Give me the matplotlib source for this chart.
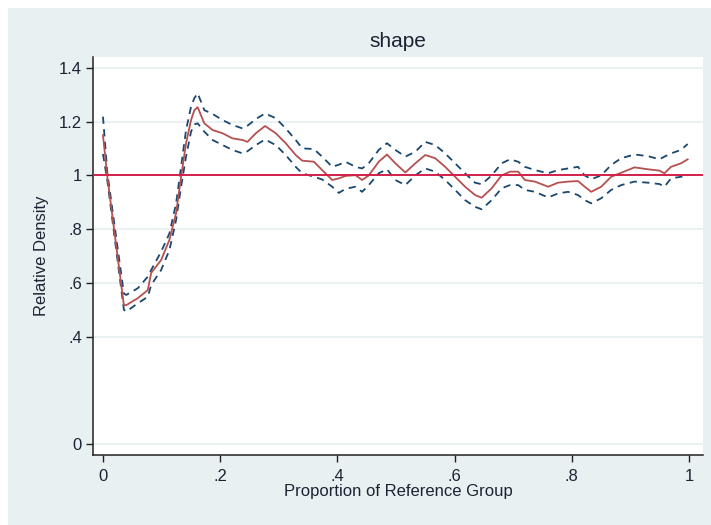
import matplotlib
matplotlib.use("Agg")
import matplotlib.pyplot as plt
from matplotlib.patches import Rectangle

x = [0.000, 0.0075, 0.0357, 0.0398, 0.0595, 0.0765, 0.0823, 0.0993, 0.1134, 0.1248,
     0.1333, 0.1418, 0.1503, 0.1560, 0.1616, 0.1730, 0.1871, 0.2041, 0.2211, 0.2381,
     0.2466, 0.2609, 0.2767, 0.2949, 0.3119, 0.3289, 0.3401, 0.3600, 0.3741, 0.3912,
     0.4025, 0.4139, 0.4310, 0.4422, 0.4536, 0.4706, 0.4847, 0.4990, 0.5160, 0.5330,
     0.5500, 0.5670, 0.5840, 0.6010, 0.6180, 0.6350, 0.6463, 0.6633, 0.6803, 0.6946,
     0.7087, 0.7201, 0.7371, 0.7597, 0.7767, 0.7937, 0.8107, 0.8221, 0.8333, 0.8503,
     0.8673, 0.8844, 0.9071, 0.9298, 0.9497, 0.9582, 0.9694, 0.9864, 0.9978]

density = [1.15, 0.994, 0.517, 0.517, 0.543, 0.573, 0.637, 0.685, 0.76, 0.86,
           0.994, 1.12, 1.206, 1.243, 1.254, 1.194, 1.169, 1.157, 1.138, 1.132,
           1.125, 1.157, 1.184, 1.157, 1.12, 1.076, 1.055, 1.051, 1.02, 0.983,
           0.989, 0.998, 1.001, 0.983, 1.0, 1.051, 1.078, 1.045, 1.011, 1.045,
           1.076, 1.064, 1.032, 0.995, 0.958, 0.927, 0.917, 0.952, 1.0, 1.014,
           1.014, 0.983, 0.977, 0.958, 0.973, 0.977, 0.979, 0.958, 0.939, 0.958,
           0.995, 1.01, 1.03, 1.023, 1.018, 1.008, 1.032, 1.045, 1.06]

upper = [1.219, 1.01, 0.56, 0.555, 0.58, 0.623, 0.648, 0.716, 0.784, 0.896,
         1.032, 1.169, 1.256, 1.288, 1.306, 1.243, 1.229, 1.206, 1.188, 1.175,
         1.185, 1.21, 1.231, 1.213, 1.175, 1.132, 1.101, 1.098, 1.07, 1.032,
         1.04, 1.051, 1.032, 1.026, 1.045, 1.095, 1.12, 1.095, 1.07, 1.088,
         1.125, 1.113, 1.082, 1.045, 1.008, 0.973, 0.967, 1.0, 1.045, 1.06,
         1.051, 1.032, 1.02, 1.008, 1.02, 1.026, 1.032, 1.0, 0.986, 1.0,
         1.039, 1.064, 1.078, 1.072, 1.06, 1.07, 1.082, 1.095, 1.117]

lower = [1.08, 0.98, 0.50, 0.493, 0.524, 0.548, 0.592, 0.648, 0.722, 0.834,
         0.958, 1.07, 1.163, 1.19, 1.194, 1.163, 1.132, 1.113, 1.095, 1.082,
         1.09, 1.113, 1.134, 1.113, 1.076, 1.032, 1.008, 0.995, 0.985, 0.958,
         0.935, 0.95, 0.958, 0.939, 0.964, 1.008, 1.023, 0.983, 0.964, 1.0,
         1.026, 1.014, 0.983, 0.946, 0.908, 0.883, 0.874, 0.908, 0.952, 0.964,
         0.964, 0.946, 0.939, 0.918, 0.933, 0.939, 0.927, 0.908, 0.896, 0.915,
         0.946, 0.964, 0.977, 0.973, 0.968, 0.958, 0.989, 0.995, 0.998]

xticks = [0, 0.2, 0.4, 0.6, 0.8, 1.0]
xticklabels = ["0", ".2", ".4", ".6", ".8", "1"]
yticks = [0, 0.4, 0.6, 0.8, 1.0, 1.2, 1.4]
yticklabels = ["0", ".4", ".6", ".8", "1", "1.2", "1.4"]

BG = "#e8f0f2"
GRID = "#e6eff1"
TXT = "#1c2433"

plt.rcParams['font.family'] = ['Liberation Sans', 'DejaVu Sans']

fig = plt.figure(figsize=(7.11, 5.25), dpi=100)
fig.patch.set_facecolor("white")
fig.patches.append(Rectangle((8/711, 0), 1 - 8/711, 1 - 8/525, transform=fig.transFigure,
                             facecolor=BG, edgecolor="none", zorder=-10))

ax = fig.add_axes([93/711, 70/525, 610/711, 398/525])
ax.set_facecolor("white")

for yt in yticks:
    ax.axhline(yt, color=GRID, lw=1.2, zorder=0)

ax.plot(x, upper, color="#1a476f", lw=1.3, ls=(0, (4, 3)), zorder=3)
ax.plot(x, lower, color="#1a476f", lw=1.3, ls=(0, (4, 3)), zorder=3)
ax.plot(x, density, color="#b5504f", lw=1.3, zorder=4)
ax.axhline(1.0, color="#d4204a", lw=1.4, zorder=5)

ax.set_xlim(-0.017, 1.024)
ax.set_ylim(-0.041, 1.441)
ax.set_xticks(xticks)
ax.set_xticklabels(xticklabels)
ax.set_yticks(yticks)
ax.set_yticklabels(yticklabels)
ax.tick_params(direction="out", length=5, width=1, colors="#222222", labelcolor=TXT,
               labelsize=12)
ax.tick_params(axis="x", pad=5)
ax.tick_params(axis="y", pad=3)

for s in ["top", "right"]:
    ax.spines[s].set_visible(False)
for s in ["left", "bottom"]:
    ax.spines[s].set_color("#222222")
    ax.spines[s].set_linewidth(1.1)

ax.set_xlabel("Proportion of Reference Group", fontsize=12, color=TXT, labelpad=0)
ax.set_ylabel("Relative Density", fontsize=12, color=TXT, labelpad=7)
ax.set_title("shape", fontsize=15, color=TXT, pad=7)

fig.savefig("out.png", dpi=100, facecolor=fig.get_facecolor())
